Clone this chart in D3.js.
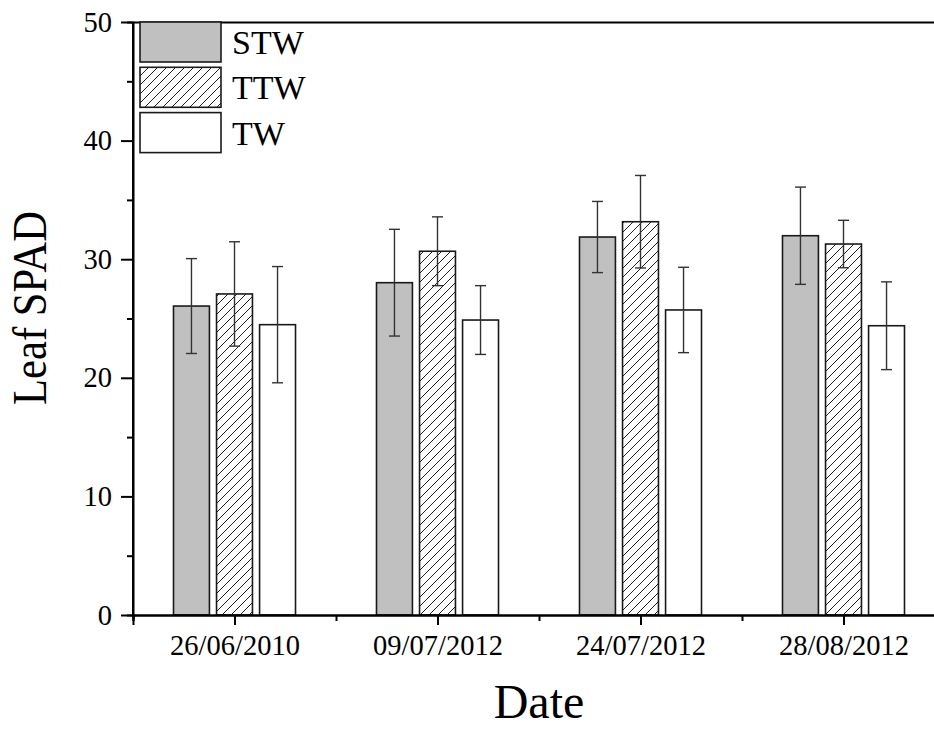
<!DOCTYPE html>
<html><head><meta charset="utf-8">
<script src="https://cdn.jsdelivr.net/npm/d3@7"></script>
<style>body{margin:0;background:#fff}svg{display:block}text{font-family:"Liberation Serif","Times New Roman",serif;fill:#000}</style>
</head><body>
<svg id="c" width="934" height="729"></svg>
<script>
const categories = ["26/06/2010","09/07/2012","24/07/2012","28/08/2012"];
const seriesNames = ["STW","TTW","TW"];
const stwValues = [26.05, 28.02, 31.87, 31.98];
const stwErrors = [4.0, 4.5, 3.0, 4.1];
const ttwValues = [27.07, 30.67, 33.16, 31.28];
const ttwErrors = [4.4, 2.9, 3.9, 2.0];
const twValues = [24.48, 24.87, 25.72, 24.39];
const twErrors = [4.9, 2.9, 3.6, 3.7];
const yTicks = [0,10,20,30,40,50];

const svg = d3.select("#c");
const x = d3.scaleLinear().domain([0.5, 4.5]).range([133, 945]);
const y = d3.scaleLinear().domain([0, 50]).range([615, 22]);

const defs = svg.append("defs");
const P = 9;
const pat = defs.append("pattern").attr("id","hatch").attr("patternUnits","userSpaceOnUse")
  .attr("width",P).attr("height",P);
pat.append("rect").attr("width",P).attr("height",P).attr("fill","#fff");
pat.append("path").attr("d",`M-2,2 L2,-2 M0,${P} L${P},0 M${P-2},${P+2} L${P+2},${P-2}`).attr("stroke","#222").attr("stroke-width",1);

const series = [
  {name:"STW", vals:stwValues, errs:stwErrors, fill:"#c0c0c0", off:-0.212},
  {name:"TTW", vals:ttwValues, errs:ttwErrors, fill:"url(#hatch)", off:0},
  {name:"TW", vals:twValues, errs:twErrors, fill:"#fff", off:0.212}
];
const bw = 0.177;

series.forEach(s => {
  const g = svg.append("g");
  g.selectAll("rect").data(s.vals).join("rect")
    .attr("x",(d,i)=>x(i+1+s.off-bw/2))
    .attr("width",x(bw)-x(0))
    .attr("y",d=>y(d))
    .attr("height",d=>y(0)-y(d))
    .attr("fill",s.fill).attr("stroke","#1a1a1a").attr("stroke-width",1.6);
});
series.forEach(s => {
  const g = svg.append("g").attr("stroke","#333").attr("stroke-width",1.4);
  s.vals.forEach((v,i)=>{
    const cx = x(i+1+s.off);
    g.append("line").attr("x1",cx).attr("x2",cx).attr("y1",y(v+s.errs[i])).attr("y2",y(v-s.errs[i]));
    [v+s.errs[i], v-s.errs[i]].forEach(e=>{
      g.append("line").attr("x1",cx-5.5).attr("x2",cx+5.5).attr("y1",y(e)).attr("y2",y(e));
    });
  });
});

// axes
const yAxis = svg.append("g").attr("transform","translate(133,0)")
  .call(d3.axisLeft(y).tickValues(yTicks).tickSize(12).tickPadding(9).tickFormat(d3.format("d")));
svg.append("g").attr("transform","translate(133,0)")
  .call(d3.axisLeft(y).tickValues([5,15,25,35,45]).tickSize(6).tickFormat(""));
const xAxis = svg.append("g").attr("transform","translate(0,615)")
  .call(d3.axisBottom(x).tickValues([1,2,3,4]).tickSize(10).tickPadding(10).tickFormat(d=>categories[d-1]));
svg.append("g").attr("transform","translate(0,615)")
  .call(d3.axisBottom(x).tickValues([0.5,1.5,2.5,3.5,4.5]).tickSize(6).tickFormat(""));
svg.append("g").attr("transform","translate(0,22)")
  .call(d3.axisTop(x).tickValues([]).tickSizeOuter(0));
svg.selectAll(".domain").attr("stroke","#000").attr("stroke-width",2);
svg.selectAll(".tick line").attr("stroke","#000").attr("stroke-width",2);
svg.selectAll(".tick text").attr("font-size",28.5).attr("font-family","Liberation Serif");
yAxis.selectAll(".domain").attr("d","M0,22V615");

svg.append("text").attr("x",x(2.5)).attr("y",718).attr("text-anchor","middle")
  .attr("font-size",48).text("Date");
svg.append("text").attr("transform",`translate(46,308) rotate(-90)`).attr("text-anchor","middle")
  .attr("font-size",48).attr("textLength",194).attr("lengthAdjust","spacingAndGlyphs").text("Leaf SPAD");

// legend
const leg = svg.append("g");
series.forEach((s,i)=>{
  const y0 = 22 + i*45.3;
  leg.append("rect").attr("x",140).attr("y",y0).attr("width",81).attr("height",40)
    .attr("fill",s.fill).attr("stroke","#1a1a1a").attr("stroke-width",1.6);
  leg.append("text").attr("x",232).attr("y",y0+32).attr("font-size",34).text(s.name);
});
</script>
</body></html>
